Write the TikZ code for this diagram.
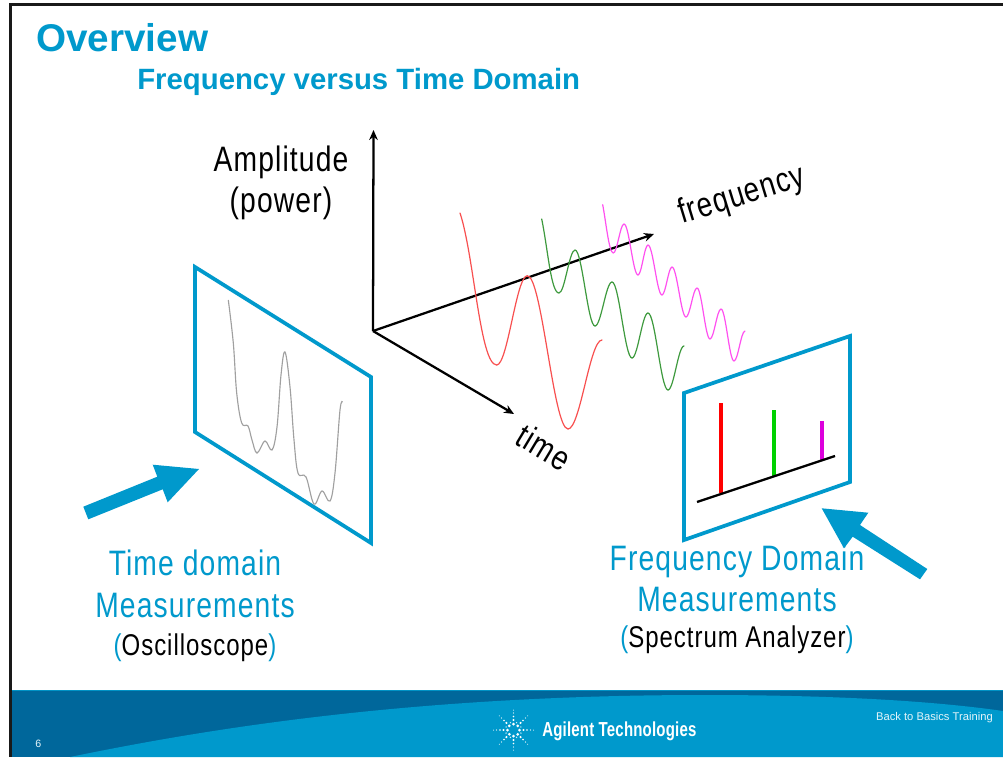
\documentclass[tikz,border=0pt]{standalone}
\usepackage{fontspec}
\setmainfont{Liberation Sans}
\newfontfamily\cond[FakeStretch=0.80,LetterSpace=3.2]{Liberation Sans}
\newfontfamily\condb[FakeStretch=0.74,LetterSpace=1]{Liberation Sans Bold}
\usetikzlibrary{arrows.meta}
\definecolor{agblue}{HTML}{0099CC}
\definecolor{agdark}{HTML}{00679B}
\definecolor{curvegray}{HTML}{A0A0A0}
\definecolor{curvered}{HTML}{F85050}
\definecolor{curvegreen}{HTML}{3E9A3E}
\definecolor{curvemag}{HTML}{FF50F0}
\newcommand{\wavesegs}[4]{%
  % #1 colour, #2 start x, #3 start y, #4 list of extrema
  \foreach \x/\y [remember=\x as \lx (initially #2), remember=\y as \ly (initially #3)] in {#4}{
    \pgfmathsetmacro{\h}{0.36*(\x-\lx)}
    \draw[wavepart,#1] (\lx,\ly) .. controls +(\h,0) and +(-\h,0) .. (\x,\y);
  }}
\tikzset{
  panel/.style={draw=agblue,line width=2.8pt,line join=miter},
  axisline/.style={draw=black,line width=1.7pt,-{Stealth[length=7.5pt,width=6.5pt]}},
  wavepart/.style={line width=0.9pt,line cap=round},
  wave/.style={line width=0.85pt,smooth,tension=0.6},
  specline/.style={line width=3pt},
  bigarrow/.style={fill=agblue,draw=none},
  bluetitle/.style={text=agblue,anchor=base west,font=\bfseries},
  label/.style={anchor=base,inner sep=0pt},
}
\begin{document}
\begin{tikzpicture}[x=0.75pt,y=-0.75pt]
\useasboundingbox (0,0) rectangle (1003,757);
% slide frame
\fill[white] (0,0) rectangle (1003,757);
\fill[black!90] (9,2.5) rectangle (1003,5.5);
\fill[black!90] (9,2.5) rectangle (11.5,757);
% footer band
\fill[agdark] (11.5,690) rectangle (1003,757);
\fill[agblue!85!agdark] (11.5,689.5) rectangle (1003,691);
\fill[agblue] (70,757) .. controls (192,732) and (400,695) .. (704,695)
  .. controls (810,695) and (920,699) .. (1003,711) -- (1003,757) -- cycle;
% titles
\node[bluetitle,inner sep=0pt] (overview) at (36,51) {\fontsize{29}{29}\selectfont Overview};
\node[bluetitle,inner sep=0pt] (subtitle) at (137,89) {\fontsize{22}{24}\selectfont Frequency versus Time Domain};
% axes
\coordinate (o) at (373,331);
\coordinate (ampTip) at (373.5,130);
\coordinate (freqTip) at (654,234);
\coordinate (timeTip) at (514,414);
\draw[axisline] (o) -- (ampTip);
\draw[axisline] (o) -- (freqTip);
\draw[axisline] (o) -- (timeTip);
\node[label] (amp) at (281,171) {\cond\fontsize{26.5}{27}\selectfont Amplitude};
\node[label] (pow) at (281,212) {\cond\fontsize{26.5}{27}\selectfont (power)};
\node[rotate=17,inner sep=0pt] (freq) at (742,196) {\cond\fontsize{26}{26}\selectfont frequency};
\node[rotate=-31,inner sep=0pt] (time) at (544,447) {\cond\fontsize{26}{26}\selectfont time};
% waves
\draw[wavepart,curvered] (460,213) .. controls (474,255) and (480,365) .. (496.7,365);
\wavesegs{curvered}{496.7}{365}{527.3/275.7,568/429,602/340}
\draw[wavepart,curvegreen] (541.7,219) .. controls (548,250) and (551,293) .. (559,293);
\wavesegs{curvegreen}{559}{293}{575/250,595/326,612/282,632/358,648/313,668/390,684/346}
\draw[wavepart,curvemag] (602.7,204.7) .. controls (606,222) and (609,253) .. (613.3,253);
\wavesegs{curvemag}{613.3}{253}{624/224,638/275,648/245,662/295,672/267,686/317,697/288,710/339,721/309,734/361,745/331}
% left panel
\draw[panel] (195,267) -- (371,377) -- (371,543) -- (195,432) -- cycle;
\draw[wave,curvegray] plot coordinates {(228.3,300)(233.3,343)(236.7,393)(241.7,423)(248,426)(252,440)(257,453)(265,441)(272,450)(277,427)(281,375)(285,352)(290,387)(294,440)(298,473)(306,477)(314,504)(322,491)(330,501)(335,473)(340,410)(342.7,402)};
% right panel
\draw[panel] (684,393) -- (850,336) -- (850,482) -- (684,540) -- cycle;
\draw[specline,red] (721,403) -- (721,493);
\draw[specline,color={rgb,255:red,0;green,210;blue,0}] (773.7,410) -- (773.7,476);
\draw[specline,color={rgb,255:red,220;green,0;blue,220}] (822,421) -- (822,460);
\coordinate (baseL) at (697,502);
\coordinate (baseR) at (835,456);
\draw[black,line width=1.7pt] (baseL) -- (baseR);
% big arrows
\fill[bigarrow] (83.3,506.7) -- (157.3,476.7) -- (152.7,464.7) -- (199,469) -- (167.7,502.3) -- (162.7,489.3) -- (88.3,519.3) -- cycle;
\fill[bigarrow] (821.7,508.3) -- (868.3,512.7) -- (860,525) -- (927.3,569) -- (920,579.3) -- (852.7,536.7) -- (844,548.3) -- cycle;
% captions
\node[label,text=agblue] (td) at (195,575) {\cond\fontsize{26.5}{27}\selectfont Time domain};
\node[label,text=agblue] (tm) at (195,617) {\cond\fontsize{26.5}{27}\selectfont Measurements};
\node[label] (osc) at (195,655) {\cond\fontsize{22.5}{23}\selectfont {\color{agblue}(}Oscilloscope{\color{agblue})}};
\node[label,text=agblue] (fd) at (737,570) {\cond\fontsize{26.5}{27}\selectfont Frequency Domain};
\node[label,text=agblue] (fm) at (737,611) {\cond\fontsize{26.5}{27}\selectfont Measurements};
\node[label] (sa) at (737,647) {\cond\fontsize{22.5}{23}\selectfont {\color{agblue}(}Spectrum Analyzer{\color{agblue})}};
% logo
\foreach \a in {0,45,...,315}{
  \foreach \r/\s in {6/1.5,10/1.2,13.5/0.9,17/0.7,20/0.5}{
    \fill[white] (513.5,730) ++(\a:\r) circle (\s);
  }
}
\foreach \a in {22.5,67.5,...,337.5}{
  \fill[white!80!agblue] (513.5,730) ++(\a:8) circle (0.8);
}
\node[anchor=base west,inner sep=0pt,text=white] (ag) at (542,736) {\condb\fontsize{15.2}{16}\selectfont Agilent Technologies};
\node[anchor=base east,inner sep=0pt,text=white!90!agblue] (btb) at (993,720) {\fontsize{8.4}{9}\selectfont Back to Basics Training};
\node[anchor=base west,inner sep=0pt,text=white!90!agblue] (pg) at (35,747) {\fontsize{8}{8}\selectfont 6};
\end{tikzpicture}
\end{document}
